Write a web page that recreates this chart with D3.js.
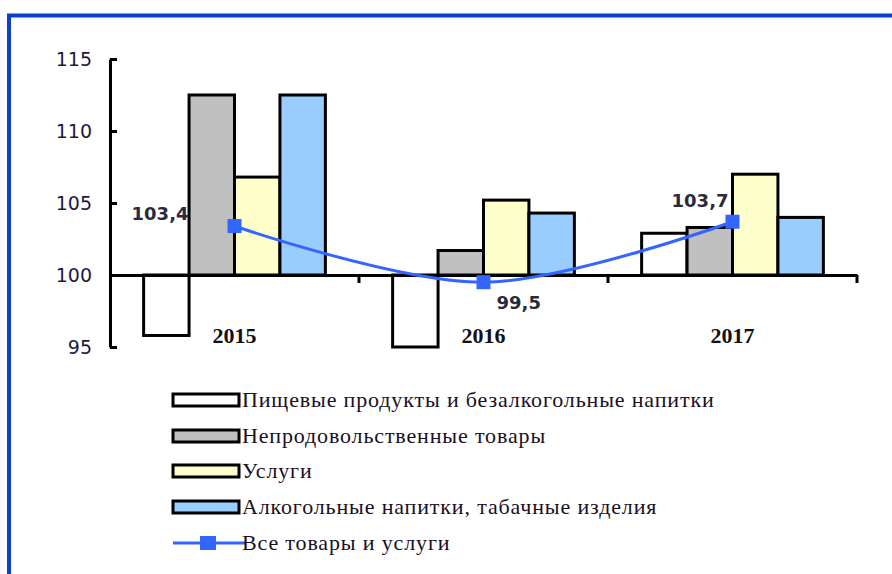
<!DOCTYPE html>
<html>
<head>
<meta charset="utf-8">
<script src="https://cdn.jsdelivr.net/npm/d3@7"></script>
<style>
  body { margin: 0; background: #fff; }
  svg { display: block; }
</style>
</head>
<body>
<div id="chart"></div>
<script>
const years = ["2015", "2016", "2017"]
const seriesNames = [
  "Пищевые продукты и безалкогольные напитки",
  "Непродовольственные товары",
  "Услуги",
  "Алкогольные напитки, табачные изделия"
]
const food = [95.8, 95.0, 102.9]
const nonFood = [112.5, 101.7, 103.3]
const services = [106.8, 105.2, 107.0]
const alcohol = [112.5, 104.3, 104.0]
const total = [103.4, 99.5, 103.7]
const totalName = "Все товары и услуги"
const yTicks = [95, 100, 105, 110, 115]

const colors = ["#ffffff", "#c0c0c0", "#ffffcc", "#99ccff"]
const lineColor = "#3366ff"
// label offsets for the total line, relative to its points
const labelPos = [
  { dx: -46, dy: -6, anchor: "end" },
  { dx: 13, dy: 27, anchor: "start" },
  { dx: -4, dy: -15, anchor: "end" }
]

const width = 892, height = 574
const series = [food, nonFood, services, alcohol]

const svg = d3.select("#chart").append("svg")
  .attr("width", width)
  .attr("height", height)

// blue frame, runs off the right and bottom edge
svg.append("rect")
  .attr("x", 9).attr("y", 15.5)
  .attr("width", 900).attr("height", 600)
  .attr("fill", "none")
  .attr("stroke", "#0a3fd0")
  .attr("stroke-width", 4)

const y = d3.scaleLinear().domain([95, 115]).range([347, 59])
const x = d3.scaleBand().domain(years).range([110, 857])
const xs = d3.scaleBand().domain(d3.range(series.length))
  .range([0, x.bandwidth()]).paddingOuter(0.74)

// bars
const groups = svg.append("g").selectAll("g")
  .data(series)
  .join("g")
  .attr("fill", (d, i) => colors[i])

groups.selectAll("rect")
  .data((d, i) => d.map((v, j) => ({ v, j, i })))
  .join("rect")
  .attr("x", d => x(years[d.j]) + xs(d.i))
  .attr("width", xs.bandwidth())
  .attr("y", d => Math.min(y(d.v), y(100)))
  .attr("height", d => Math.abs(y(d.v) - y(100)))
  .attr("stroke", "#000")
  .attr("stroke-width", 3)

// y axis
const yAxis = svg.append("g")
  .attr("transform", "translate(110,0)")
  .call(d3.axisLeft(y).tickValues(yTicks).tickSize(-7).tickSizeOuter(0).tickPadding(18))
yAxis.selectAll("path, line").attr("stroke", "#000").attr("stroke-width", 3)
yAxis.selectAll("text")
  .attr("font-family", "DejaVu Sans")
  .attr("font-size", 19)
  .attr("fill", "#1f1a40")

// x axis along 100, ticks at category boundaries
const xAxis = svg.append("g")
  .attr("transform", `translate(0,${y(100)})`)
  .call(d3.axisBottom(x).tickSize(8).tickSizeOuter(0).tickFormat(() => ""))
xAxis.selectAll(".tick").attr("transform", d => `translate(${x(d) + x.bandwidth()},0)`)
xAxis.selectAll("path, line").attr("stroke", "#000").attr("stroke-width", 3)

// year labels
svg.append("g").selectAll("text")
  .data(years)
  .join("text")
  .attr("x", d => x(d) + x.bandwidth() / 2)
  .attr("y", 343)
  .attr("text-anchor", "middle")
  .attr("font-family", "Liberation Serif")
  .attr("font-weight", "bold")
  .attr("font-size", 22)
  .attr("fill", "#111")
  .text(d => d)

// total line
const pts = total.map((v, i) => [x(years[i]) + x.bandwidth() / 2, y(v)])
svg.append("path")
  .attr("d", d3.line().curve(d3.curveCardinal.tension(0))(pts))
  .attr("fill", "none")
  .attr("stroke", lineColor)
  .attr("stroke-width", 3)

svg.append("g").selectAll("rect")
  .data(pts)
  .join("rect")
  .attr("x", d => d[0] - 7).attr("y", d => d[1] - 7)
  .attr("width", 14).attr("height", 14)
  .attr("fill", lineColor)

svg.append("g").selectAll("text")
  .data(total)
  .join("text")
  .attr("x", (d, i) => pts[i][0] + labelPos[i].dx)
  .attr("y", (d, i) => pts[i][1] + labelPos[i].dy)
  .attr("text-anchor", (d, i) => labelPos[i].anchor)
  .attr("font-family", "DejaVu Sans")
  .attr("font-weight", "bold")
  .attr("font-size", 18)
  .attr("fill", "#2a2a3a")
  .text(d => String(d).replace(".", ","))

// legend
const legend = svg.append("g").attr("transform", "translate(173,0)")
const rowY = [400, 436, 471, 507, 543]

seriesNames.forEach((name, i) => {
  legend.append("rect")
    .attr("x", 0).attr("y", rowY[i] - 6)
    .attr("width", 66).attr("height", 12)
    .attr("fill", colors[i])
    .attr("stroke", "#000")
    .attr("stroke-width", 3)
  legend.append("text")
    .attr("x", 69).attr("y", rowY[i] + 7)
    .attr("font-family", "Liberation Serif")
    .attr("font-size", 22)
    .attr("letter-spacing", 0.85)
    .attr("fill", "#1a0f1f")
    .text(name)
})

const ly = rowY[4]
legend.append("line")
  .attr("x1", 0).attr("x2", 72).attr("y1", ly).attr("y2", ly)
  .attr("stroke", lineColor).attr("stroke-width", 3)
legend.append("rect")
  .attr("x", 27).attr("y", ly - 7).attr("width", 16).attr("height", 14)
  .attr("fill", lineColor)
legend.append("text")
  .attr("x", 69).attr("y", ly + 7)
  .attr("font-family", "Liberation Serif")
  .attr("font-size", 22)
  .attr("letter-spacing", 0.85)
  .attr("fill", "#1a0f1f")
  .text(totalName)
</script>
</body>
</html>
